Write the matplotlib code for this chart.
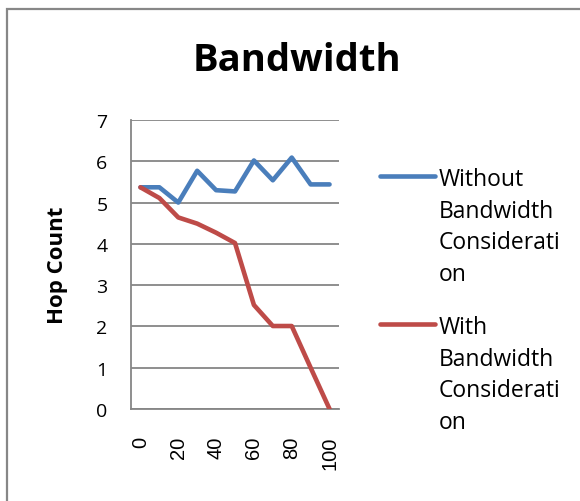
import matplotlib.pyplot as plt
from matplotlib.lines import Line2D
from matplotlib.patches import Rectangle

plt.rcParams['font.family'] = ['Open Sans', 'DejaVu Sans']

# 데이터
categories = [0, 10, 20, 30, 40, 50, 60, 70, 80, 90, 100]
without_bw = [5.37, 5.37, 5.0, 5.77, 5.30, 5.27, 6.02, 5.54, 6.09, 5.44, 5.44]
with_bw = [5.37, 5.11, 4.64, 4.49, 4.27, 4.02, 2.52, 2.01, 2.01, 1.0, 0.0]
series_names = ['Without\nBandwidth\nConsiderati\non', 'With\nBandwidth\nConsiderati\non']
yticks = [0, 1, 2, 3, 4, 5, 6, 7]

blue = '#4A7EBB'
red = '#BE4B48'
grid_c = '#868686'

fig = plt.figure(figsize=(5.8, 5.02), dpi=100)

# 차트 테두리
fig.add_artist(Rectangle((6.5 / 580, -0.1), 1.2, 1 - 9.5 / 502 + 0.1,
                         transform=fig.transFigure, fill=False,
                         edgecolor='#878787', linewidth=1.6))

ax = fig.add_axes([131 / 580, 92 / 502, 208 / 580, 289 / 502])
x = list(range(len(categories)))
ax.plot(x, without_bw, color=blue, linewidth=3.3, solid_capstyle='round', zorder=3)
ax.plot(x, with_bw, color=red, linewidth=3.3, solid_capstyle='round', zorder=3)

ax.set_xlim(-0.5, len(categories) - 0.5)
ax.set_ylim(0, 7)
ax.set_yticks(yticks)
ax.set_yticklabels([str(v) for v in yticks], fontsize=14)
ax.set_xticks(x[::2])
ax.set_xticklabels([str(c) for c in categories[::2]], rotation=90,
                   fontsize=14.5, va='top', ha='center', family='Liberation Sans')
ax.tick_params(length=0)
ax.tick_params(axis='y', pad=17)
ax.tick_params(axis='x', pad=19)

ax.grid(axis='y', color=grid_c, linewidth=1.3)
ax.set_axisbelow(True)
for s in ['top', 'right']:
    ax.spines[s].set_visible(False)
for s in ['left', 'bottom']:
    ax.spines[s].set_color(grid_c)
    ax.spines[s].set_linewidth(1.3)

ax.set_ylabel('Hop Count', fontsize=16, fontweight='bold', labelpad=20)
fig.text(297 / 580, 1 - 71 / 502, 'Bandwidth', fontsize=27.5, fontweight='bold',
         ha='center', va='baseline')

# 범례 (va='baseline'은 마지막 줄 기준)
for name, col, yline in [(series_names[0], blue, 177), (series_names[1], red, 325)]:
    fig.add_artist(Line2D([380 / 580, 435 / 580], [1 - yline / 502, 1 - yline / 502],
                          transform=fig.transFigure, color=col, linewidth=3.3,
                          solid_capstyle='round'))
    fig.text(439 / 580, 1 - (yline + 104) / 502, name, fontsize=16.5, ha='left',
             va='baseline', linespacing=1.42)

fig.savefig('out.png', dpi=100)
